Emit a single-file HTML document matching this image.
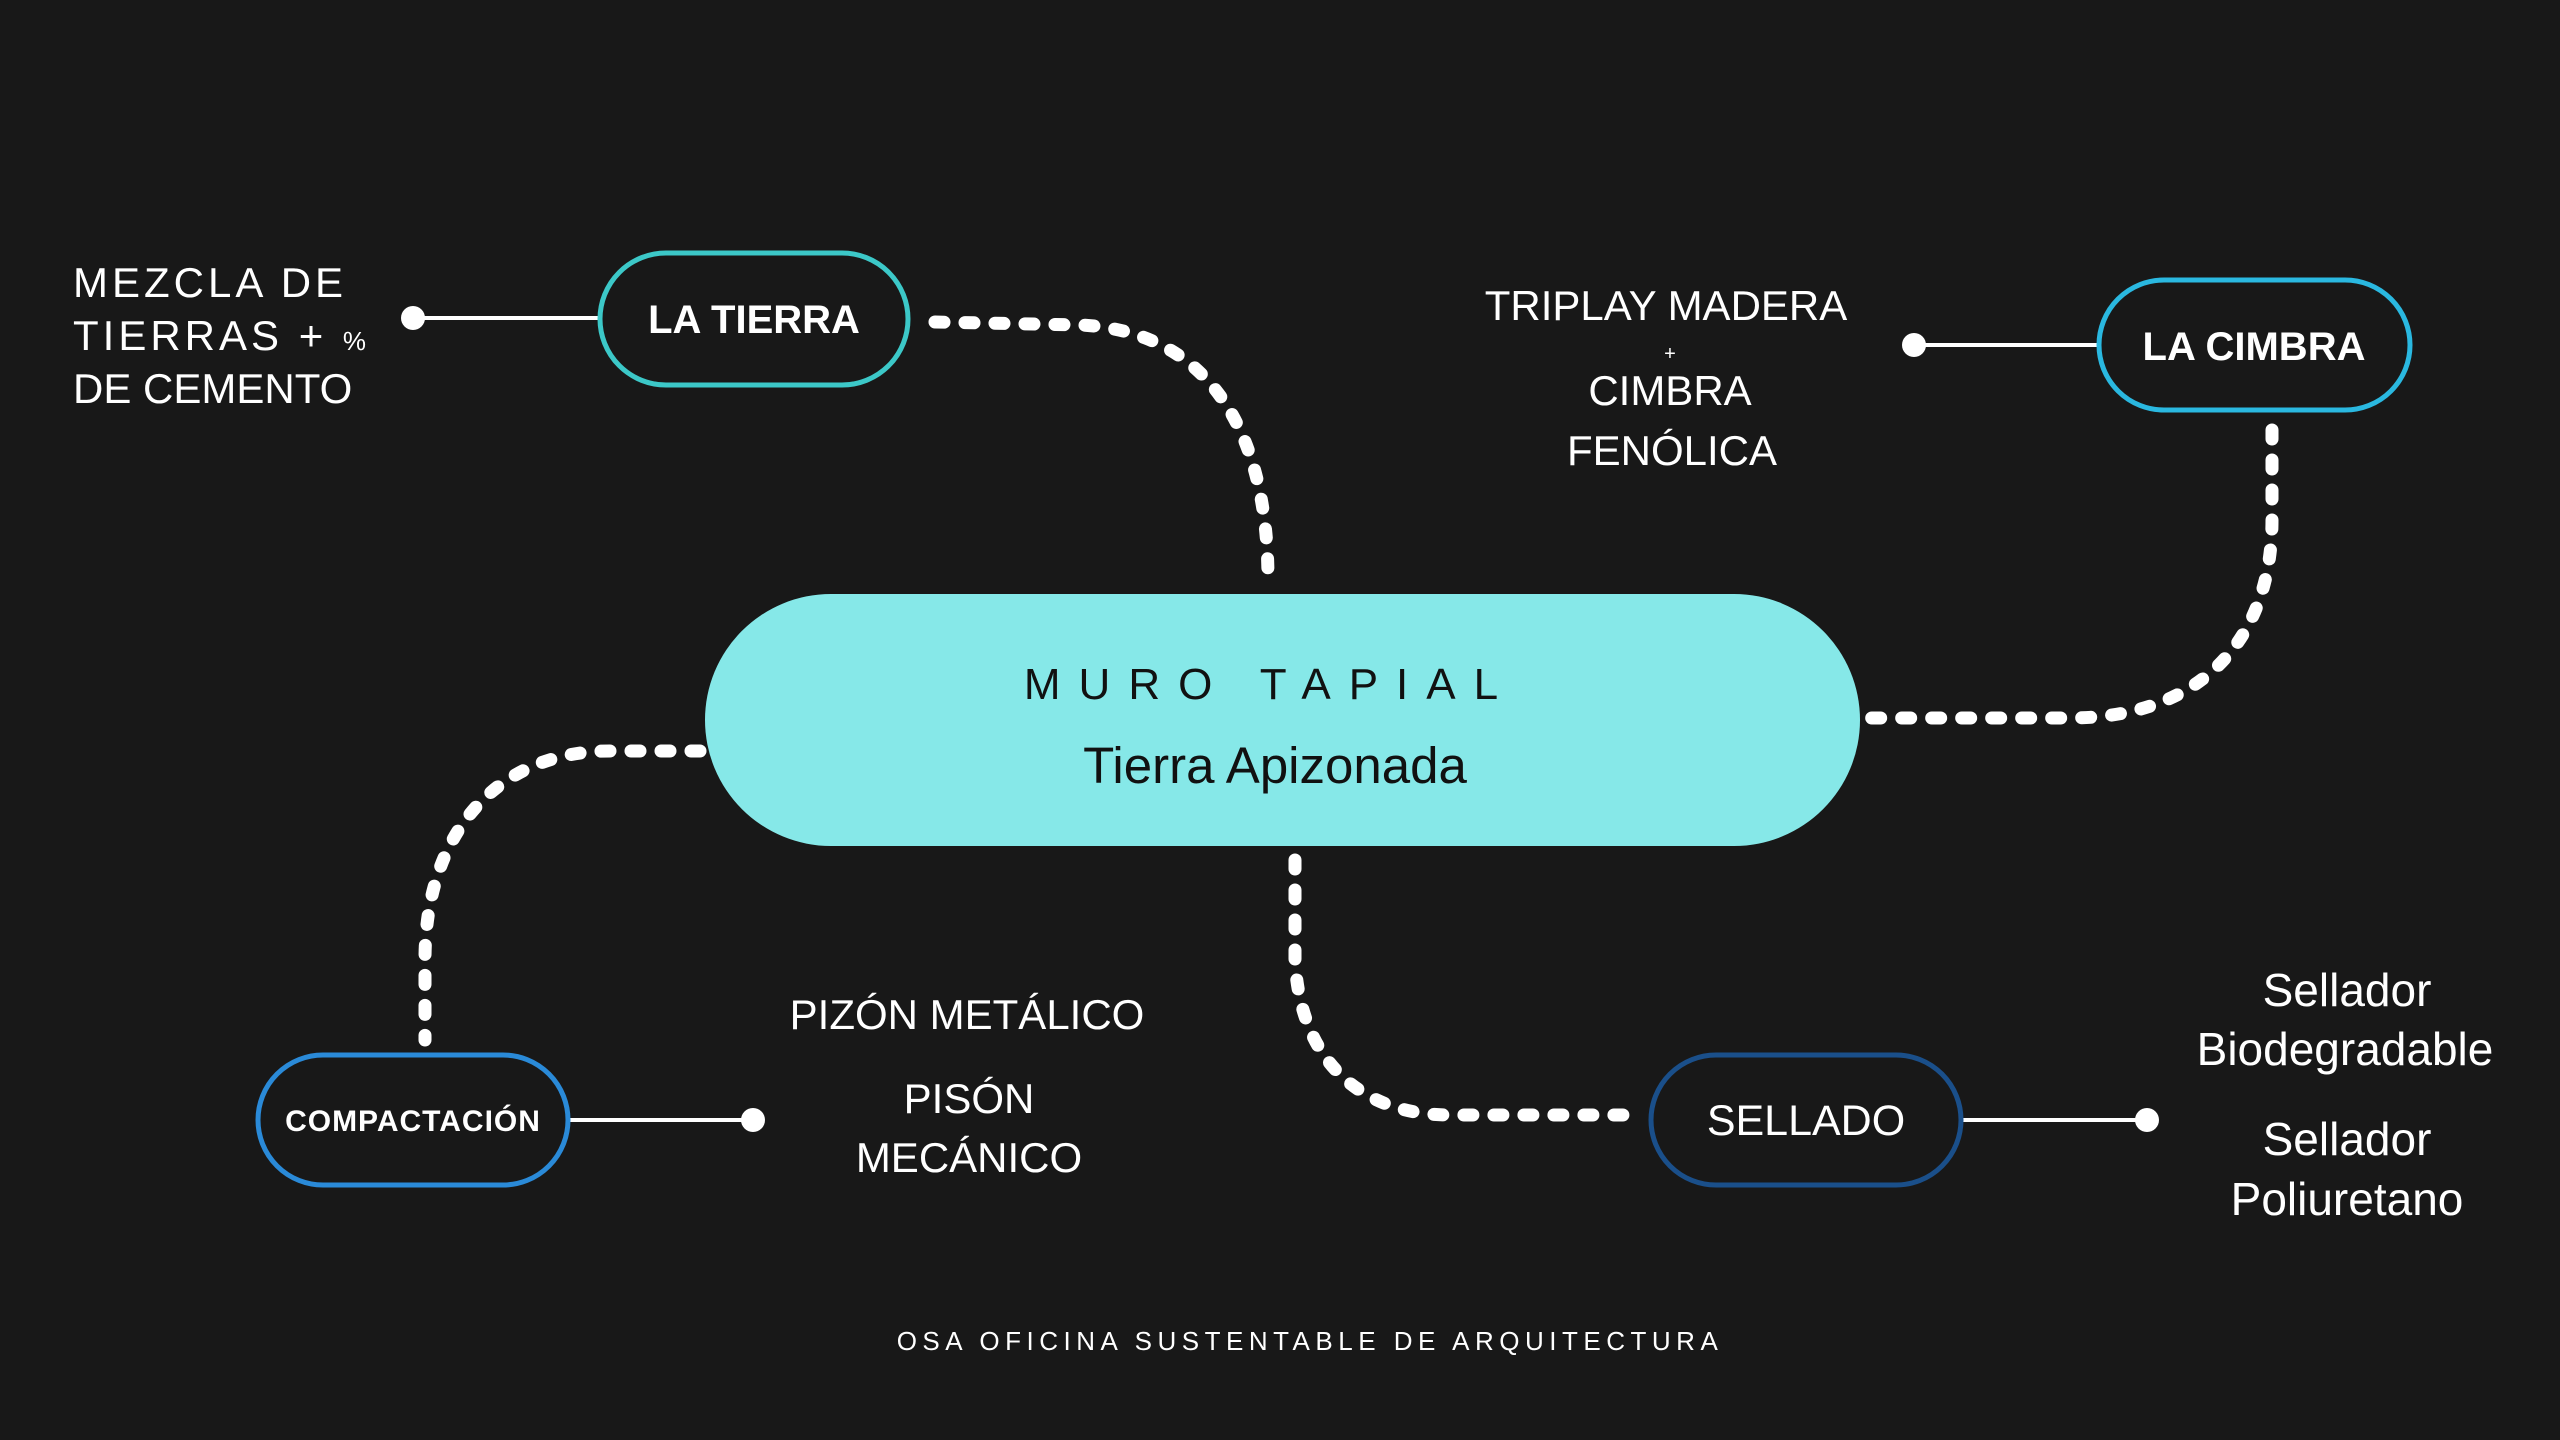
<!DOCTYPE html>
<html><head><meta charset="utf-8"><style>
html,body{margin:0;padding:0;background:#181818;}
svg{display:block}
text{font-family:"Liberation Sans","DejaVu Sans",sans-serif;fill:#fff}
</style></head><body>
<svg width="2560" height="1440" viewBox="0 0 2560 1440" xmlns="http://www.w3.org/2000/svg">
<rect width="2560" height="1440" fill="#181818"/>
<g fill="none" stroke="#fff" stroke-width="13" stroke-linecap="round" stroke-dasharray="9 21">
<path d="M935 322 L1080 325 C1200 330 1268 420 1268 580"/>
<path d="M2272 430 L2272 520 C2272 640 2200 718 2070 718 L1870 718"/>
<path d="M700 751 L610 751 C500 751 425 830 425 960 L425 1040"/>
<path d="M1295 860 L1295 960 C1300 1060 1360 1115 1450 1115 L1640 1115"/>
</g>
<g stroke="#fff" stroke-width="4">
<line x1="413" y1="318" x2="598" y2="318"/>
<line x1="1914" y1="345" x2="2097" y2="345"/>
<line x1="570" y1="1120" x2="753" y2="1120"/>
<line x1="1963" y1="1120" x2="2147" y2="1120"/>
</g>
<g fill="#fff">
<circle cx="413" cy="318" r="12"/><circle cx="1914" cy="345" r="12"/>
<circle cx="753" cy="1120" r="12"/><circle cx="2147" cy="1120" r="12"/>
</g>
<rect x="705" y="594" width="1155" height="252" rx="126" fill="#86e8e8"/>
<rect x="600" y="253" width="308" height="132" rx="66" fill="#181818" stroke="#3cc8c8" stroke-width="5"/>
<rect x="2099" y="280" width="311" height="130" rx="65" fill="#181818" stroke="#2ab8e0" stroke-width="5"/>
<rect x="258" y="1055" width="310" height="130" rx="65" fill="#181818" stroke="#2a8ad8" stroke-width="5"/>
<rect x="1651" y="1055" width="310" height="130" rx="65" fill="#181818" stroke="#1a4f8a" stroke-width="5"/>
<text x="754" y="333" font-size="40" font-weight="bold" text-anchor="middle">LA TIERRA</text>
<text x="2254" y="360" font-size="40" font-weight="bold" text-anchor="middle">LA CIMBRA</text>
<text x="413" y="1131" font-size="30" font-weight="bold" text-anchor="middle" letter-spacing="1">COMPACTACIÓN</text>
<text x="1806" y="1135" font-size="43" text-anchor="middle">SELLADO</text>
<text x="1270" y="699" font-size="44" text-anchor="middle" letter-spacing="18" style="fill:#111">MURO TAPIAL</text>
<text x="1275" y="783" font-size="51" text-anchor="middle" style="fill:#111">Tierra Apizonada</text>
<g font-size="42">
<text x="73" y="297" letter-spacing="4">MEZCLA DE</text>
<text x="73" y="350" letter-spacing="4">TIERRAS + <tspan font-size="26">%</tspan></text>
<text x="73" y="403">DE CEMENTO</text>
</g>
<g font-size="42" text-anchor="middle">
<text x="1666" y="320">TRIPLAY MADERA</text>
<text x="1670" y="360" font-size="20">+</text>
<text x="1670" y="405">CIMBRA</text>
<text x="1672" y="465">FENÓLICA</text>
<text x="967" y="1029">PIZÓN METÁLICO</text>
<text x="969" y="1113">PISÓN</text>
<text x="969" y="1172">MECÁNICO</text>
</g>
<g font-size="46" text-anchor="middle">
<text x="2347" y="1006">Sellador</text>
<text x="2345" y="1065">Biodegradable</text>
<text x="2347" y="1155">Sellador</text>
<text x="2347" y="1215">Poliuretano</text>
</g>
<text x="1310" y="1350" font-size="26" text-anchor="middle" letter-spacing="5.5">OSA OFICINA SUSTENTABLE DE ARQUITECTURA</text>
</svg>
</body></html>
